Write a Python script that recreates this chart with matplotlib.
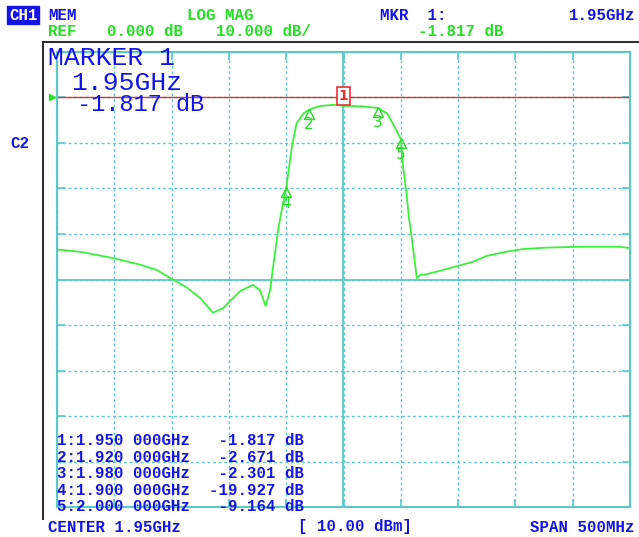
import numpy as np
import matplotlib.pyplot as plt
from matplotlib.lines import Line2D
import matplotlib.transforms as mtransforms

# Trace (GHz, dB)
freq = [1.700, 1.720, 1.749, 1.772, 1.787, 1.801, 1.813, 1.825, 1.836, 1.845,
        1.852, 1.860, 1.871, 1.877, 1.882, 1.886, 1.889, 1.893, 1.895, 1.900,
        1.905, 1.909, 1.915, 1.920, 1.929, 1.941, 1.950, 1.967, 1.980, 1.988,
        1.993, 2.000, 2.002, 2.005, 2.007, 2.009, 2.012, 2.014, 2.017, 2.023,
        2.034, 2.050, 2.063, 2.075, 2.092, 2.107, 2.127, 2.156, 2.191, 2.200]
mag = [-33.4, -33.9, -35.3, -36.7, -37.9, -40.0, -41.7, -44.1, -47.3, -46.3,
       -44.5, -42.5, -41.2, -42.3, -45.8, -42.3, -36.4, -29.1, -26.2, -19.927,
       -10.8, -5.7, -3.5, -2.671, -1.9, -1.6, -1.817, -1.95, -2.301, -3.5,
       -5.7, -9.164, -15.2, -21.1, -26.2, -29.8, -35.7, -39.7, -39.0, -38.8,
       -38.1, -37.0, -36.1, -34.8, -33.9, -33.3, -33.0, -32.8, -32.8, -33.1]

# Markers
mkr_num = [1, 2, 3, 4, 5]
mkr_freq = [1.950, 1.920, 1.980, 1.900, 2.000]
mkr_val = [-1.817, -2.671, -2.301, -19.927, -9.164]

center = 1.95
span = 0.5
ref_level = 0.0
scale = 10.0

BLUE = '#1414e6'
GREEN = '#22e022'
CYAN = '#5cc8c8'
RED = '#e83030'
TRACE = '#3cf03c'
MONO = 'Liberation Mono'

W, H = 639, 537
fig = plt.figure(figsize=(W / 100, H / 100), dpi=100)

def fx(x):
    return x / W

def fy(y):
    return 1 - y / H

ax = fig.add_axes([fx(57), 30 / H, 573 / W, 455 / H])
ax.set_xlim(center - span / 2, center + span / 2)
ax.set_ylim(ref_level - 9 * scale, ref_level + scale)
ax.set_xticks(np.linspace(center - span / 2, center + span / 2, 11))
ax.set_yticks(np.arange(-90, 11, 10))
ax.tick_params(direction='in', top=True, right=True, length=6, width=1.2,
               color=CYAN, labelbottom=False, labelleft=False)
for s in ax.spines.values():
    s.set_color(CYAN)
    s.set_linewidth(1.5)

# graticule
ax.grid(True, color=CYAN, linestyle=(0, (2, 2)), linewidth=1.0)
ax.axvline(center, color=CYAN, lw=1.3)
ax.axhline(ref_level - 4 * scale, color=CYAN, lw=1.3)

# reference line
ax.axhline(ref_level, color=RED, lw=1.0)
ax.plot([center - span / 2], [ref_level], marker='>', color=GREEN, ms=4,
        clip_on=False, transform=ax.transData +
        mtransforms.ScaledTranslation(-5 / 100, 0, fig.dpi_scale_trans))

ax.plot(freq, mag, color=TRACE, lw=1.3)

# marker symbols
tri = mtransforms.offset_copy(ax.transData, fig=fig, x=0, y=-4, units='dots')
for n, f, v in zip(mkr_num, mkr_freq, mkr_val):
    if n == 1:
        ax.text(f, ref_level + 0.4, str(n), color=RED, fontsize=10,
                fontweight='bold', ha='center', va='center',
                fontfamily='DejaVu Sans',
                bbox=dict(boxstyle='square,pad=0.15', fc='white', ec=RED, lw=1.2))
    else:
        ax.plot([f], [v], marker='^', ms=7, mfc='none', mec=GREEN, mew=1.0,
                transform=tri)
        ax.annotate(str(n), (f, v), xytext=(0, -15), textcoords='offset pixels',
                    color=GREEN, fontsize=11, ha='center', va='center')

# frame of the display
fig.add_artist(Line2D([fx(43), fx(43)], [fy(42), fy(519)], color='#303030', lw=1.5))
fig.add_artist(Line2D([fx(43), fx(639)], [fy(42), fy(42)], color='#303030', lw=1.5))

small = dict(fontfamily=MONO, fontweight='bold', fontsize=11.3, va='center')

# header
fig.text(fx(9), fy(15), 'CH1', color='white', bbox=dict(boxstyle='square,pad=0.1',
         fc=BLUE, ec=BLUE), **small)
fig.text(fx(48), fy(15), 'MEM', color=BLUE, **small)
fig.text(fx(187), fy(15), 'LOG MAG', color=GREEN, **small)
fig.text(fx(380), fy(15), 'MKR  1:', color=BLUE, **small)
fig.text(fx(635), fy(15), '%.2fGHz' % mkr_freq[0], color=BLUE, ha='right', **small)
fig.text(fx(48), fy(31), 'REF', color=GREEN, **small)
fig.text(fx(107), fy(31), '%.3f dB' % ref_level, color=GREEN, **small)
fig.text(fx(216), fy(31), '%.3f dB/' % scale, color=GREEN, **small)
fig.text(fx(418), fy(31), '%.3f dB' % mkr_val[0], color=GREEN, **small)
fig.text(fx(10), fy(143), 'C2', color=BLUE, **small)

# active marker readout
fig.text(fx(48), fy(65), 'MARKER 1', color=BLUE, fontfamily=MONO, fontsize=19,
         va='baseline')
fig.text(fx(71), fy(90), '%.2fGHz' % mkr_freq[0], color=BLUE, fontfamily=MONO,
         fontsize=19, va='baseline')
fig.text(fx(77), fy(111), '%.3f dB' % mkr_val[0], color=BLUE, fontfamily=MONO,
         fontsize=17, va='baseline')

# marker table
for i, (n, f, v) in enumerate(zip(mkr_num, mkr_freq, mkr_val)):
    fig.text(fx(57), fy(440.5 + 16.6 * i), '%d:%.3f 000GHz%9.3f dB' % (n, f, v),
             color=BLUE, **small)

# footer
fig.text(fx(48), fy(527), 'CENTER %.2fGHz' % center, color=BLUE, **small)
fig.text(fx(298), fy(527), '[ 10.00 dBm]', color=BLUE, **small)
fig.text(fx(635), fy(527), 'SPAN %dMHz' % round(span * 1000), color=BLUE,
         ha='right', **small)

fig.savefig('out.png', dpi=100, facecolor='white')
